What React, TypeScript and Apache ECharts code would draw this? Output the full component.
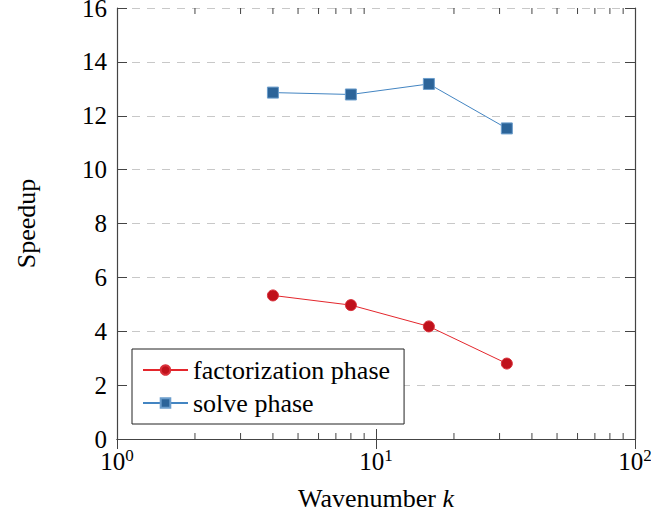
import React, { useEffect, useRef } from "react";
import * as echarts from "echarts";

const wavenumbers = [4, 8, 16, 32];
const factorizationSpeedup = [5.33, 4.97, 4.18, 2.8];
const solveSpeedup = [12.86, 12.79, 13.18, 11.53];
const minorTicksX = [2, 3, 4, 5, 6, 7, 8, 9, 20, 30, 40, 50, 60, 70, 80, 90];
const seriesNames = ["factorization phase", "solve phase"];

const FONT = "'Liberation Serif', 'Times New Roman', serif";
const AXIS_COLOR = "#444";

export default function App() {
  const ref = useRef<HTMLDivElement>(null);
  useEffect(() => {
    if (!ref.current) return;
    const chart = echarts.init(ref.current, null, { renderer: "svg" });
    const expFormatter = (v: number) => {
      const e = Math.round(Math.log10(v));
      return "{b|10}{s|" + e + "}";
    };
    const xBase = {
      type: "log" as const,
      logBase: 10,
      min: 1,
      max: 100,
      axisLine: { show: true, lineStyle: { color: AXIS_COLOR, width: 1.2 } },
      axisTick: { show: true, inside: true, length: 10, lineStyle: { color: AXIS_COLOR } },
      splitLine: { show: false },
      minorTick: { show: false },
    };
    const yBase = {
      type: "value" as const,
      min: 0,
      max: 16,
      interval: 2,
      axisLine: { show: true, lineStyle: { color: AXIS_COLOR, width: 1.2 } },
      axisTick: { show: true, inside: true, length: 10, lineStyle: { color: AXIS_COLOR } },
    };
    chart.setOption({
      animation: false,
      grid: {
        left: 117,
        right: 16,
        top: 8,
        bottom: 76,
        containLabel: false,
        outerBoundsMode: "none",
      },
      legend: {
        data: seriesNames,
        orient: "vertical",
        left: 132,
        top: 349,
        padding: [8, 14, 8, 10],
        itemGap: 7,
        itemWidth: 45,
        itemHeight: 12,
        backgroundColor: "#fff",
        borderColor: "#222",
        borderWidth: 1,
        borderRadius: 0,
        textStyle: { fontFamily: FONT, fontSize: 26, color: "#000" },
      },
      xAxis: [
        {
          ...xBase,
          position: "bottom",
          name: "{n|Wavenumber }{i|k}",
          nameLocation: "middle",
          nameGap: 46,
          nameTextStyle: {
            rich: {
              n: { fontFamily: FONT, fontSize: 26, color: "#000" },
              i: { fontFamily: FONT, fontSize: 26, fontStyle: "italic", color: "#000" },
            },
          },
          axisLabel: {
            show: true,
            margin: 8,
            formatter: expFormatter,
            rich: {
              b: { fontFamily: FONT, fontSize: 25, color: "#000" },
              s: { fontFamily: FONT, fontSize: 17, color: "#000", padding: [0, 0, 12, 0] },
            },
          },
        },
        {
          ...xBase,
          position: "top",
          axisLabel: { show: false },
        },
      ],
      yAxis: [
        {
          ...yBase,
          position: "left",
          name: "Speedup",
          nameLocation: "middle",
          nameGap: 78,
          nameTextStyle: { fontFamily: FONT, fontSize: 26, color: "#000" },
          axisLabel: { show: true, margin: 10, fontFamily: FONT, fontSize: 25, color: "#000" },
          splitLine: { show: true, lineStyle: { color: "#c8c8c8", type: [8, 7], width: 1 } },
        },
        {
          ...yBase,
          position: "right",
          axisLabel: { show: false },
          splitLine: { show: false },
        },
      ],
      series: [
        {
          name: seriesNames[0],
          type: "line",
          data: wavenumbers.map((k, i) => [k, factorizationSpeedup[i]]),
          symbol: "circle",
          symbolSize: 11,
          lineStyle: { color: "#e4262c", width: 1 },
          itemStyle: { color: "#c0111b", borderColor: "#d9303a", borderWidth: 1 },
          z: 3,
        },
        {
          name: seriesNames[1],
          type: "line",
          data: wavenumbers.map((k, i) => [k, solveSpeedup[i]]),
          symbol: "rect",
          symbolSize: 11,
          lineStyle: { color: "#4385c2", width: 1 },
          itemStyle: { color: "#2c6499", borderColor: "#6b9dcc", borderWidth: 1 },
          z: 3,
        },
        {
          name: "minorTicks",
          type: "custom",
          data: minorTicksX.map((v) => [v, 0]),
          silent: true,
          clip: false,
          z: 1,
          renderItem: (params: any, api: any) => {
            const x = api.coord([api.value(0), 0])[0];
            const cs = params.coordSys;
            const style = { stroke: AXIS_COLOR, lineWidth: 1 };
            return {
              type: "group",
              children: [
                { type: "line", shape: { x1: x, y1: cs.y + cs.height, x2: x, y2: cs.y + cs.height - 6 }, style },
                { type: "line", shape: { x1: x, y1: cs.y, x2: x, y2: cs.y + 6 }, style },
              ],
            };
          },
        },
      ],
    });
    return () => chart.dispose();
  }, []);
  return (
    <div
      ref={ref}
      style={{ position: "fixed", left: 0, top: 0, width: 651, height: 515, background: "#fff" }}
    />
  );
}
